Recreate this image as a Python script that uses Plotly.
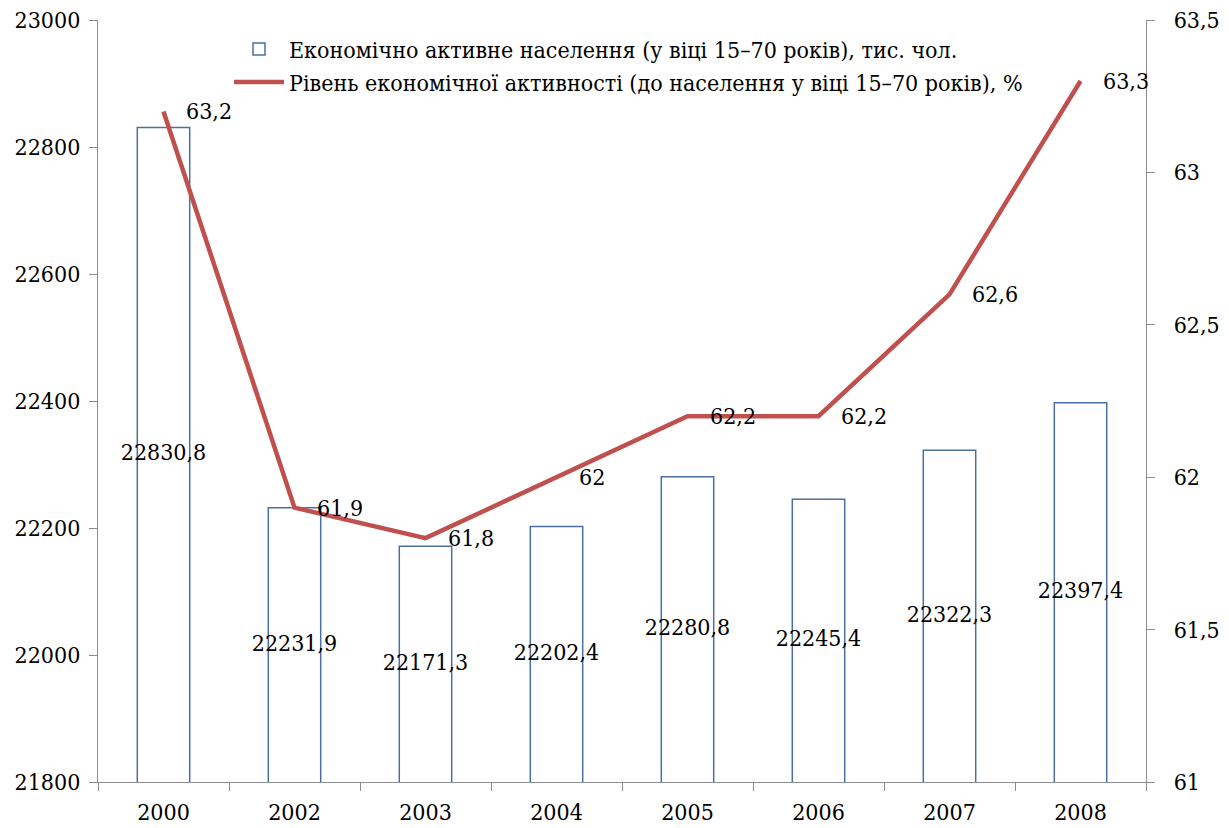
import plotly.graph_objects as go

years = ["2000", "2002", "2003", "2004", "2005", "2006", "2007", "2008"]
active_pop = [22830.8, 22231.9, 22171.3, 22202.4, 22280.8, 22245.4, 22322.3, 22397.4]
activity_rate = [63.2, 61.9, 61.8, 62.0, 62.2, 62.2, 62.6, 63.3]
pop_labels = ["22830,8", "22231,9", "22171,3", "22202,4", "22280,8", "22245,4", "22322,3", "22397,4"]
rate_labels = ["63,2", "61,9", "61,8", "62", "62,2", "62,2", "62,6", "63,3"]

bar_name = "Економічно активне населення (у віці 15–70 років), тис. чол."
line_name = "Рівень економічної активності (до населення у віці 15–70 років), %"

Y_MIN, Y_MAX = 21800, 23000
FONT = "DejaVu Serif Condensed, DejaVu Serif"
FS = 23
fig = go.Figure()

fig.add_trace(go.Bar(
    x=years, y=active_pop, name=bar_name,
    marker=dict(color="rgba(255,255,255,0)", line=dict(color="#4A6FA5", width=1.5)),
    width=0.4,
))

# bar value labels centred inside each bar
fig.add_trace(go.Scatter(
    x=years, y=[(Y_MIN + v) / 2 for v in active_pop], mode="text",
    text=pop_labels, textposition="middle center", showlegend=False,
    textfont=dict(family=FONT, size=FS, color="black"), cliponaxis=False,
    hoverinfo="skip",
))

fig.add_trace(go.Scatter(
    x=years, y=activity_rate, name=line_name, yaxis="y2",
    mode="lines", line=dict(color="#C0504D", width=4.5),
))

for i, (yv, t) in enumerate(zip(activity_rate, rate_labels)):
    fig.add_annotation(x=i, xref="x", y=yv, yref="y2", text=t, showarrow=False,
                       xanchor="left", yanchor="middle", xshift=20,
                       font=dict(family=FONT, size=FS, color="black"))

fig.update_layout(
    width=1221, height=820,
    margin=dict(l=90, r=83, t=12, b=46),
    paper_bgcolor="white", plot_bgcolor="white",
    separators=", ",
    font=dict(family=FONT, size=FS, color="black"),
    showlegend=True,
    legend=dict(x=0.125, y=0.99, xanchor="left", yanchor="top",
                bgcolor="rgba(0,0,0,0)", font=dict(family=FONT, size=FS),
                tracegroupgap=0, itemwidth=50),
    bargap=0.6,
    xaxis=dict(type="category", range=[-0.5, 7.5], showline=True, linecolor="#8C8C8C", linewidth=1.2,
               ticks="outside", tickson="boundaries", ticklen=8, tickcolor="#8C8C8C",
               showgrid=False, tickfont=dict(family=FONT, size=FS), automargin=False,
               ticklabelstandoff=9, ticklabeloverflow="allow"),
    yaxis=dict(range=[Y_MIN, Y_MAX], tickvals=[21800, 22000, 22200, 22400, 22600, 22800, 23000],
               tickformat="d", showline=True, linecolor="#8C8C8C", linewidth=1.2,
               ticks="outside", ticklen=8, tickcolor="#8C8C8C", showgrid=False,
               zeroline=False, tickfont=dict(family=FONT, size=FS), automargin=False,
               ticklabeloverflow="allow", ticklabelstandoff=4),
    yaxis2=dict(range=[61, 63.5], tickvals=[61, 61.5, 62, 62.5, 63, 63.5],
                overlaying="y", side="right", showline=True, linecolor="#8C8C8C", linewidth=1.2,
                ticks="outside", ticklen=8, tickcolor="#8C8C8C", showgrid=False,
                zeroline=False, tickfont=dict(family=FONT, size=FS), automargin=False,
                ticklabelstandoff=14, ticklabeloverflow="allow"),
)

fig.write_html("out.html")
